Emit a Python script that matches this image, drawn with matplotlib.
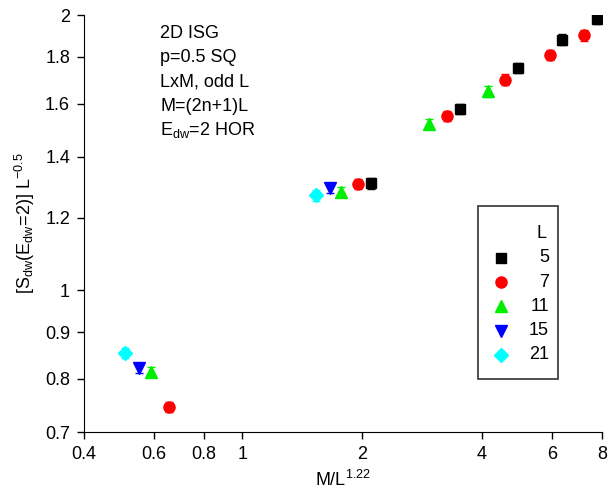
import matplotlib
matplotlib.use('Agg')
import matplotlib.pyplot as plt
from matplotlib.patches import Rectangle
from matplotlib.ticker import FixedLocator, FixedFormatter, NullLocator

plt.rcParams['font.family'] = ['Liberation Sans', 'DejaVu Sans']
plt.rcParams['mathtext.fontset'] = 'custom'
plt.rcParams['mathtext.rm'] = 'Liberation Sans'
plt.rcParams['mathtext.it'] = 'Liberation Sans'

# data: x = M/L^1.22, y = [S_dw(E_dw=2)] L^-0.5
sizes = ['5', '7', '11', '15', '21']
x5 = [2.11, 3.52, 4.93, 6.34, 7.78]
y5 = [1.309, 1.578, 1.750, 1.880, 1.980]
x7 = [0.653, 1.95, 3.26, 4.57, 5.91, 7.20]
y7 = [0.745, 1.306, 1.550, 1.700, 1.810, 1.900]
x11 = [0.588, 1.77, 2.95, 4.14]
y11 = [0.814, 1.280, 1.520, 1.650]
x15 = [0.551, 1.66]
y15 = [0.822, 1.295]
x21 = [0.508, 1.53]
y21 = [0.854, 1.270]
err = 0.013   # relative error bar

series = [(x5, y5), (x7, y7), (x11, y11), (x15, y15), (x21, y21)]
colors = ['black', 'red', '#00ee00', 'blue', 'cyan']
markers = ['s', 'o', '^', 'v', 'D']
msizes = [7.2, 8, 9, 9, 7.2]

xticks = [0.4, 0.6, 0.8, 1, 2, 4, 6, 8]
yticks = [0.7, 0.8, 0.9, 1, 1.2, 1.4, 1.6, 1.8, 2]

FS = 13

fig = plt.figure(figsize=(6.1, 4.94), dpi=100)
ax = fig.add_axes([0.1377, 0.1255, 0.849, 0.8441])

for (xs, ys), c, mk, ms in zip(series, colors, markers, msizes):
    ax.errorbar(xs, ys, yerr=[y * err for y in ys], fmt=mk, color=c, ms=ms,
                mec=c, ecolor=c, elinewidth=1, capsize=3, capthick=1)

ax.set_xscale('log')
ax.set_yscale('log')
ax.set_xlim(0.4, 8)
ax.set_ylim(0.7, 2)
ax.xaxis.set_major_locator(FixedLocator(xticks))
ax.xaxis.set_major_formatter(FixedFormatter([str(t) for t in xticks]))
ax.xaxis.set_minor_locator(NullLocator())
ax.yaxis.set_major_locator(FixedLocator(yticks))
ax.yaxis.set_major_formatter(FixedFormatter([str(t) for t in yticks]))
ax.yaxis.set_minor_locator(NullLocator())
ax.tick_params(direction='out', length=5, width=1, labelsize=FS, pad=5)
ax.spines['top'].set_visible(False)
ax.spines['right'].set_visible(False)

ax.set_xlabel(r'M/L$^{1.22}$', fontsize=FS, labelpad=5)
ax.set_ylabel(r'[S$_{\rm dw}$(E$_{\rm dw}$=2)] L$^{-0.5}$', fontsize=FS, labelpad=6)

info = ['2D ISG', 'p=0.5 SQ', 'LxM, odd L', 'M=(2n+1)L', r'E$_{\rm dw}$=2 HOR']
for i, line in enumerate(info):
    ax.text(0.147, 0.9456 - i * 0.0583, line, transform=ax.transAxes,
            fontsize=FS, va='baseline', ha='left')

# hand-drawn legend box, as in the original
ax.add_patch(Rectangle((0.760, 0.1264), 0.1544, 0.4156, transform=ax.transAxes,
                       fill=False, ec='#333333', lw=1.2, clip_on=False))
ax.text(0.893, 0.4765, 'L', transform=ax.transAxes, fontsize=FS,
        ha='right', va='center')
for i, (s, c, mk, ms) in enumerate(zip(sizes, colors, markers, msizes)):
    yy = 0.418 - i * 0.0583
    ax.plot([0.805], [yy], mk, color=c, ms=ms, transform=ax.transAxes,
            clip_on=False)
    ax.text(0.898, yy, s, transform=ax.transAxes, fontsize=FS,
            ha='right', va='center')

fig.savefig('out.png', dpi=100)
